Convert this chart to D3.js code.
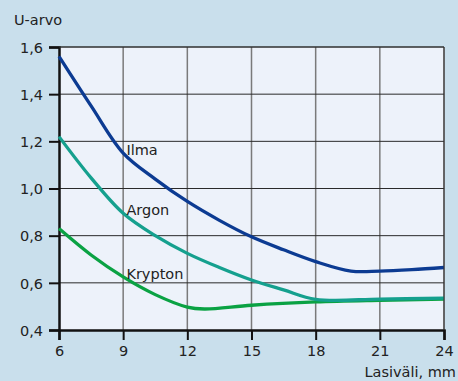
<!DOCTYPE html>
<html><head><meta charset="utf-8">
<script src="https://cdn.jsdelivr.net/npm/d3@7"></script>
<style>
html,body{margin:0;padding:0;background:#c9dfec;}
svg{display:block;font-family:"DejaVu Sans",Verdana,sans-serif;}
</style></head>
<body><svg id="c" width="458" height="381"></svg>
<script>
const xTicks = [6, 9, 12, 15, 18, 21, 24];
const yTicks = [0.4, 0.6, 0.8, 1.0, 1.2, 1.6, 1.4];
const yTickLabels = {0.4:"0,4",0.6:"0,6",0.8:"0,8",1.0:"1,0",1.2:"1,2",1.4:"1,4",1.6:"1,6"};

const ilmaX = [6, 7.5, 9, 10.5, 12, 13.5, 15, 16.5, 18, 19.65, 21, 22.5, 24];
const ilmaY = [1.56, 1.35, 1.15, 1.04, 0.945, 0.865, 0.795, 0.74, 0.69, 0.65, 0.65, 0.656, 0.665];
const argonX = [6, 7.5, 9, 10.5, 12, 13.5, 15, 16.5, 18, 21, 24];
const argonY = [1.22, 1.045, 0.895, 0.80, 0.725, 0.665, 0.612, 0.57, 0.53, 0.531, 0.535];
const kryptonX = [6, 7.5, 9, 10.5, 12, 12.8, 15, 18, 21, 24];
const kryptonY = [0.83, 0.718, 0.625, 0.55, 0.497, 0.489, 0.505, 0.519, 0.526, 0.531];

const seriesNames = ["Ilma", "Argon", "Krypton"];
const seriesColors = ["#0c3b92", "#15a08e", "#0aa243"];

const svg = d3.select("#c");
const x = d3.scaleLinear().domain([6, 24]).range([59, 444]);
const y = d3.scaleLinear().domain([0.4, 1.6]).range([330, 47]);

svg.append("rect").attr("width",458).attr("height",381).attr("fill","#c9dfec");
svg.append("rect").attr("x",x(6)).attr("y",y(1.6)).attr("width",x(24)-x(6)).attr("height",y(0.4)-y(1.6)).attr("fill","#edf2fa");

svg.append("g").selectAll("line").data(xTicks.slice(1)).join("line")
  .attr("x1",d=>x(d)).attr("x2",d=>x(d)).attr("y1",y(1.6)).attr("y2",y(0.4))
  .attr("stroke","#7a7a7a").attr("stroke-width",1.5);
svg.append("g").selectAll("line").data(yTicks.filter(d=>d>0.4)).join("line")
  .attr("x1",x(6)).attr("x2",x(24)).attr("y1",d=>y(d)).attr("y2",d=>y(d))
  .attr("stroke","#2a2a2a").attr("stroke-width",1);

const yAxis = d3.axisLeft(y).tickValues(yTicks).tickSize(10).tickPadding(6).tickFormat(d=>yTickLabels[d]);
const gy = svg.append("g").attr("transform",`translate(${x(6)},0)`).call(yAxis);
const xAxis = d3.axisBottom(x).tickValues(xTicks).tickSize(10).tickPadding(6).tickFormat(d=>String(d));
const gx = svg.append("g").attr("transform",`translate(0,${y(0.4)})`).call(xAxis);
[gx, gy].forEach(g=>{
  g.select(".domain").attr("stroke","#111").attr("stroke-width",2.5);
  g.selectAll(".tick line").attr("stroke","#111").attr("stroke-width",2);
  g.selectAll(".tick text").attr("fill","#222").attr("font-size",14.5).attr("font-family","DejaVu Sans, Verdana, sans-serif");
});
gy.selectAll(".tick text").attr("dy","0.36em");

const line = d3.line().x(d=>x(d[0])).y(d=>y(d[1])).curve(d3.curveCatmullRom.alpha(0.5));
const series = [
  d3.zip(ilmaX, ilmaY),
  d3.zip(argonX, argonY),
  d3.zip(kryptonX, kryptonY)
];
[2,1,0].forEach(i=>{
  svg.append("path").datum(series[i]).attr("d",line)
    .attr("fill","none").attr("stroke",seriesColors[i]).attr("stroke-width",3.3)
    .attr("stroke-linejoin","round");
});

const labelPos = [[9.15, 1.15], [9.15, 0.895], [9.15, 0.625]];
svg.append("g").selectAll("text").data(seriesNames).join("text")
  .attr("x",(d,i)=>x(labelPos[i][0])).attr("y",(d,i)=>y(labelPos[i][1])+2)
  .attr("font-size",14.5).attr("fill","#222").text(d=>d);

svg.append("text").attr("x",14).attr("y",25).attr("font-size",14.5).attr("fill","#222").text("U-arvo");
svg.append("text").attr("x",456).attr("y",377).attr("text-anchor","end").attr("font-size",14.5).attr("fill","#222").text("Lasiväli, mm");
svg.append("path").attr("d",`M${x(6)},${y(1.6)}H${x(24)}V${y(0.4)}`).attr("fill","none").attr("stroke","#333").attr("stroke-width",1);
</script></body></html>
